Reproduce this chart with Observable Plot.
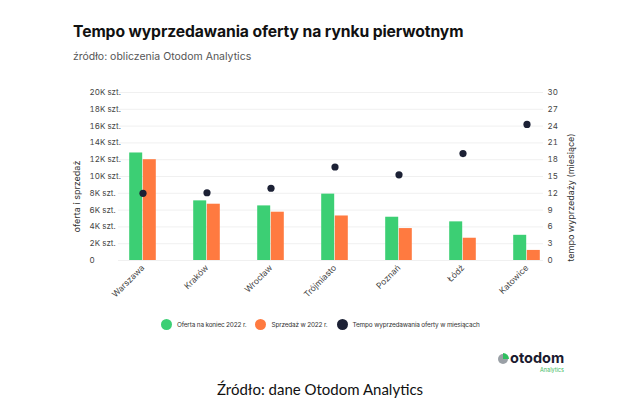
<!DOCTYPE html>
<html><head><meta charset="utf-8">
<script src="https://cdn.jsdelivr.net/npm/d3@7"></script>
<script src="https://cdn.jsdelivr.net/npm/@observablehq/plot@0.6"></script>
<style>
body{margin:0;background:#fff;width:640px;height:414px;position:relative;overflow:hidden;font-family:Inter,"Noto Sans",sans-serif}
.abs{position:absolute;white-space:nowrap}
#title{left:73px;top:22px;font-size:15.7px;font-weight:700;color:#111;letter-spacing:-0.1px}
#sub{left:73px;top:50px;font-size:10.5px;color:#555}
#chart{position:absolute;left:0;top:75px}
.ylab{font-size:9px;color:#333;transform:rotate(-90deg);transform-origin:center}
#legend{left:161px;top:319px;display:flex;align-items:center;font-size:6.4px;letter-spacing:-0.15px;color:#333}
#legend span.dot{display:inline-block;width:11px;height:11px;border-radius:50%;margin-right:5px}
#legend span.item{display:flex;align-items:center;margin-right:9px}
#logo{left:497px;top:350px}
#caption{left:0;width:640px;text-align:center;top:380px;font-family:Lato,"Liberation Sans",sans-serif;font-size:15px;color:#111}
</style></head>
<body>
<div id="title" class="abs">Tempo wyprzedawania oferty na rynku pierwotnym</div>
<div id="sub" class="abs">źródło: obliczenia Otodom Analytics</div>
<div id="chart"></div>
<div id="ylabL" class="abs ylab">oferta i sprzedaż</div>
<div id="ylabR" class="abs ylab">tempo wyprzedaży (miesiące)</div>
<div id="legend" class="abs"></div>
<div id="logo" class="abs">
  <svg width="80" height="26">
    <circle cx="6" cy="9" r="5" fill="#9aa0a6"/>
    <path d="M6 9 L6 3 A6 6 0 0 1 12 9 Z" fill="#2fbf5f"/>
    <text x="13" y="13" font-family="Inter,sans-serif" font-weight="700" font-size="14.5" fill="#1a1a2e">otodom</text>
    <text x="43" y="22" font-family="Inter,sans-serif" font-size="5.5" fill="#3cb95c">Analytics</text>
  </svg>
</div>
<div id="caption" class="abs">Źródło: dane Otodom Analytics</div>
<script>
const cities = ["Warszawa","Kraków","Wrocław","Trójmiasto","Poznań","Łódź","Katowice"];
const oferta = [12800, 7100, 6500, 7900, 5150, 4600, 3000];
const sprzedaz = [12000, 6700, 5750, 5300, 3800, 2650, 1200];
const tempo = [12.0, 12.1, 12.9, 16.7, 15.3, 19.1, 24.3];
const leftTicks = [0,2000,4000,6000,8000,10000,12000,14000,16000,18000,20000];
const rightTicks = [0,3,6,9,12,15,18,21,24,27,30];
const seriesNames = ["Oferta na koniec 2022 r.","Sprzedaż w 2022 r.","Tempo wyprzedawania oferty w miesiącach"];
const colors = ["#3ccf74","#ff7a40","#1c2135"];

const ratio = 20000/30;
const rows = cities.map((c,i)=>({city:c, oferta:oferta[i], sprzedaz:sprzedaz[i], tempo:tempo[i]}));

const chart = Plot.plot({
  width: 640, height: 240,
  marginLeft: 118, marginRight: 97, marginTop: 17, marginBottom: 55,
  style: {fontFamily: "Inter, 'Noto Sans', sans-serif", fontSize: "8px", color: "#444"},
  x: {domain: cities, range: [107.65, 560.55], paddingInner: 0.796, paddingOuter: 0.398, label: null},
  y: {domain: [0, 20000], label: null},
  marks: [
    Plot.ruleY(leftTicks, {stroke: "#ececec", strokeWidth: 0.8}),
    Plot.barY(rows, {x: "city", y: "oferta", fill: colors[0], dx: -6.8}),
    Plot.barY(rows, {x: "city", y: "sprzedaz", fill: colors[1], dx: 6.8}),
    Plot.dot(rows, {x: "city", y: d => d.tempo*ratio, r: 3.6, fill: colors[2]}),
    Plot.axisY({ticks: leftTicks, tickSize: 0, tickPadding: 0, textAnchor: "start", dx: -29,
      tickFormat: d => d === 0 ? "0" : (d/1000) + "K szt.", label: null}),
    Plot.axisY({anchor: "right", ticks: rightTicks.map(t=>t*ratio), tickSize: 0, tickPadding: 4,
      tickFormat: d => String(Math.round(d/ratio)), label: null}),
    Plot.axisX({tickRotate: -45, tickSize: 0, tickPadding: 6, label: null, fontSize: 8.5})
  ]
});
document.getElementById("chart").appendChild(chart);

const L = document.getElementById("ylabL");
const R = document.getElementById("ylabR");
function place(el, cx, cy){ const w = el.offsetWidth, h = el.offsetHeight; el.style.left = (cx - w/2)+"px"; el.style.top = (cy - h/2)+"px"; }
place(L, 77, 196);
place(R, 570, 197);

const lg = document.getElementById("legend");
seriesNames.forEach((n,i)=>{
  const it = document.createElement("span"); it.className="item";
  const d = document.createElement("span"); d.className="dot"; d.style.background = colors[i];
  it.appendChild(d); it.appendChild(document.createTextNode(n)); lg.appendChild(it);
});
</script>
</body></html>
